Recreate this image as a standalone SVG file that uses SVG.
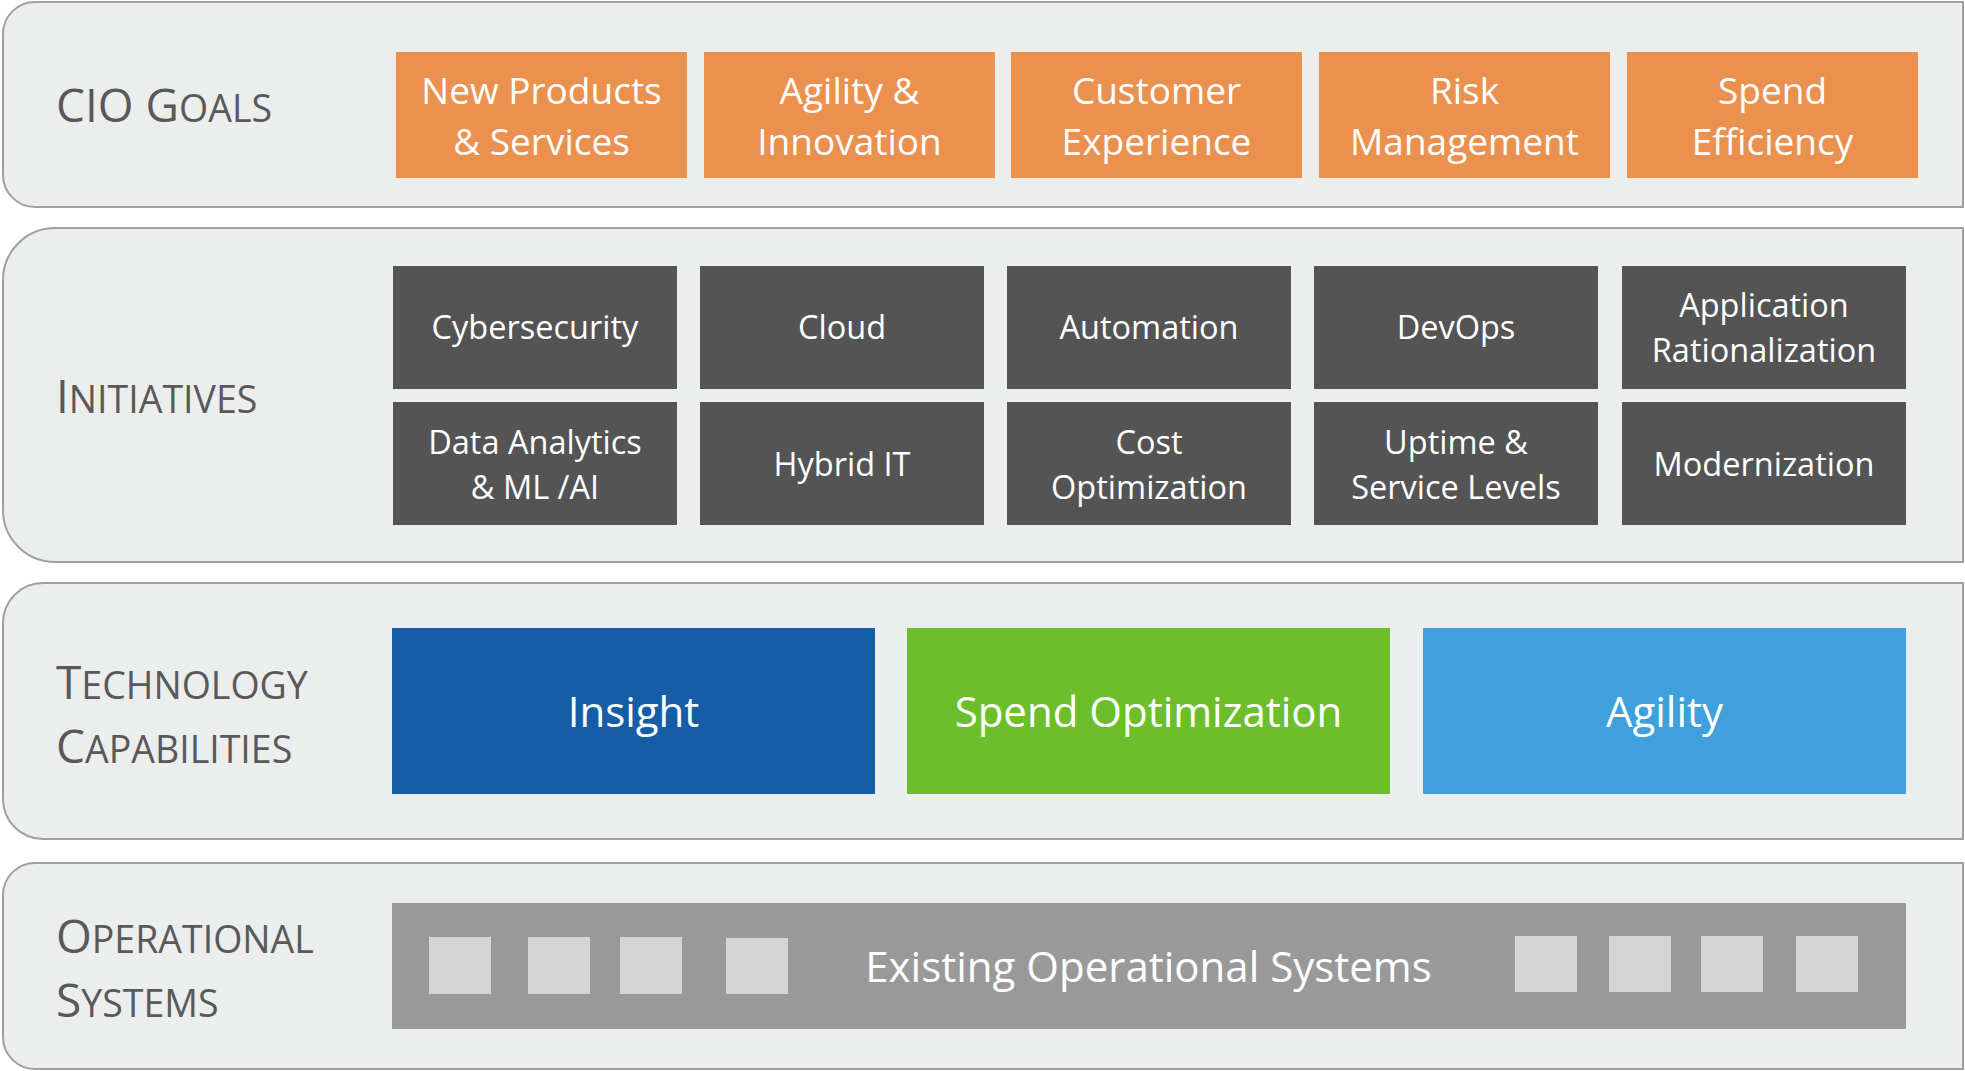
<svg xmlns="http://www.w3.org/2000/svg" width="1965" height="1071" viewBox="0 0 1965 1071">
<style>
.panel{fill:#ECEDED;stroke:#A0A0A0;stroke-width:2}
.lbl{font-family:"Open Sans","Liberation Sans",sans-serif;font-size:46px;fill:#595959}
.sc{font-size:37.5px}
.goal{fill:#EA9150}
.init{fill:#545454}
.t{font-family:"Open Sans","Liberation Sans",sans-serif;fill:#FFFFFF;text-anchor:middle}
.tg{font-size:37px}
.ti{font-size:32.5px}
.tc{font-size:42px}
.sq{fill:#D5D5D5}
</style>
<g id="layers">
<path class="panel" d="M1963,2 H35 A32,32 0 0 0 3,34 V175 A32,32 0 0 0 35,207 H1963 Z"/>
<path class="panel" d="M1963,228 H55 A52,52 0 0 0 3,280 V510 A52,52 0 0 0 55,562 H1963 Z"/>
<path class="panel" d="M1963,583 H43 A40,40 0 0 0 3,623 V799 A40,40 0 0 0 43,839 H1963 Z"/>
<path class="panel" d="M1963,863 H35 A32,32 0 0 0 3,895 V1037 A32,32 0 0 0 35,1069 H1963 Z"/>
</g>
<g id="labels">
<text class="lbl" x="56" y="122">CIO G<tspan class="sc">OALS</tspan></text>
<text class="lbl" x="56" y="413">I<tspan class="sc">NITIATIVES</tspan></text>
<text class="lbl" x="56" y="699">T<tspan class="sc">ECHNOLOGY</tspan></text>
<text class="lbl" x="56" y="763">C<tspan class="sc">APABILITIES</tspan></text>
<text class="lbl" x="56" y="953">O<tspan class="sc">PERATIONAL</tspan></text>
<text class="lbl" x="56" y="1017">S<tspan class="sc">YSTEMS</tspan></text>
</g>
<g id="goal-new-products">
<rect class="goal" x="396" y="52" width="291" height="126"/>
<text class="t tg" x="541.5" y="104">New Products</text>
<text class="t tg" x="541.5" y="155">&amp; Services</text>
</g>
<g id="goal-agility">
<rect class="goal" x="704" y="52" width="291" height="126"/>
<text class="t tg" x="849.5" y="104">Agility &amp;</text>
<text class="t tg" x="849.5" y="155">Innovation</text>
</g>
<g id="goal-customer">
<rect class="goal" x="1011" y="52" width="291" height="126"/>
<text class="t tg" x="1156.5" y="104">Customer</text>
<text class="t tg" x="1156.5" y="155">Experience</text>
</g>
<g id="goal-risk">
<rect class="goal" x="1319" y="52" width="291" height="126"/>
<text class="t tg" x="1464.5" y="104">Risk</text>
<text class="t tg" x="1464.5" y="155">Management</text>
</g>
<g id="goal-spend">
<rect class="goal" x="1627" y="52" width="291" height="126"/>
<text class="t tg" x="1772.5" y="104">Spend</text>
<text class="t tg" x="1772.5" y="155">Efficiency</text>
</g>
<g id="init-cybersecurity">
<rect class="init" x="393" y="266" width="284" height="123"/>
<text class="t ti" x="535" y="339">Cybersecurity</text>
</g>
<g id="init-cloud">
<rect class="init" x="700" y="266" width="284" height="123"/>
<text class="t ti" x="842" y="339">Cloud</text>
</g>
<g id="init-automation">
<rect class="init" x="1007" y="266" width="284" height="123"/>
<text class="t ti" x="1149" y="339">Automation</text>
</g>
<g id="init-devops">
<rect class="init" x="1314" y="266" width="284" height="123"/>
<text class="t ti" x="1456" y="339">DevOps</text>
</g>
<g id="init-apprat">
<rect class="init" x="1622" y="266" width="284" height="123"/>
<text class="t ti" x="1764" y="317">Application</text>
<text class="t ti" x="1764" y="362">Rationalization</text>
</g>
<g id="init-data">
<rect class="init" x="393" y="402" width="284" height="123"/>
<text class="t ti" x="535" y="454">Data Analytics</text>
<text class="t ti" x="535" y="499">&amp; ML /AI</text>
</g>
<g id="init-hybrid">
<rect class="init" x="700" y="402" width="284" height="123"/>
<text class="t ti" x="842" y="476">Hybrid IT</text>
</g>
<g id="init-cost">
<rect class="init" x="1007" y="402" width="284" height="123"/>
<text class="t ti" x="1149" y="454">Cost</text>
<text class="t ti" x="1149" y="499">Optimization</text>
</g>
<g id="init-uptime">
<rect class="init" x="1314" y="402" width="284" height="123"/>
<text class="t ti" x="1456" y="454">Uptime &amp;</text>
<text class="t ti" x="1456" y="499">Service Levels</text>
</g>
<g id="init-modernization">
<rect class="init" x="1622" y="402" width="284" height="123"/>
<text class="t ti" x="1764" y="476">Modernization</text>
</g>
<g id="cap-insight">
<rect x="392" y="628" width="483" height="166" fill="#165DA8"/>
<text class="t tc" x="633.5" y="727">Insight</text>
</g>
<g id="cap-spend">
<rect x="907" y="628" width="483" height="166" fill="#6CBF2B"/>
<text class="t tc" x="1148.5" y="727">Spend Optimization</text>
</g>
<g id="cap-agility">
<rect x="1423" y="628" width="483" height="166" fill="#40A0DC"/>
<text class="t tc" x="1664.5" y="727">Agility</text>
</g>
<g id="ops-existing">
<rect x="392" y="903" width="1514" height="126" fill="#999999"/>
<rect class="sq" x="429" y="937" width="62" height="57"/>
<rect class="sq" x="528" y="937" width="62" height="57"/>
<rect class="sq" x="620" y="937" width="62" height="57"/>
<rect class="sq" x="726" y="938" width="62" height="56"/>
<rect class="sq" x="1515" y="936" width="62" height="56"/>
<rect class="sq" x="1609" y="936" width="62" height="56"/>
<rect class="sq" x="1701" y="936" width="62" height="56"/>
<rect class="sq" x="1796" y="936" width="62" height="56"/>
<text class="t tc" x="1148.5" y="982">Existing Operational Systems</text>
</g>
<g id="connectors"/>
</svg>
